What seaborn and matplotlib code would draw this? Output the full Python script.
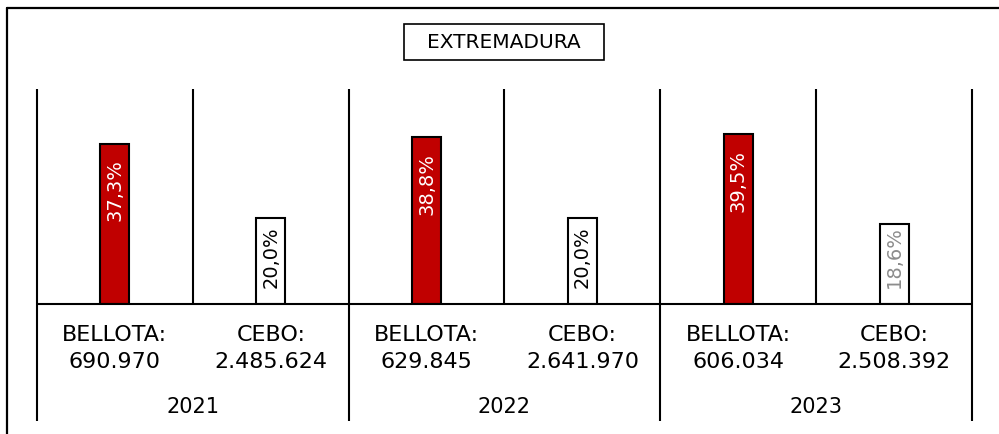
import matplotlib
matplotlib.use("Agg")
import matplotlib.pyplot as plt
from matplotlib.patches import Rectangle
from matplotlib.lines import Line2D
import seaborn as sns
import pandas as pd

# ---- data ----
years = ["2021", "2022", "2023"]
tipos = ["BELLOTA", "CEBO"]
bellota_pct = [37.3, 38.8, 39.5]
cebo_pct = [20.0, 20.0, 18.6]
bellota_heads = ["690.970", "629.845", "606.034"]
cebo_heads = ["2.485.624", "2.641.970", "2.508.392"]
title = "EXTREMADURA"

rows = []
for i, y in enumerate(years):
    rows.append({"cat": f"{y}-BELLOTA", "tipo": "BELLOTA", "value": bellota_pct[i], "heads": bellota_heads[i], "year": y})
    rows.append({"cat": f"{y}-CEBO", "tipo": "CEBO", "value": cebo_pct[i], "heads": cebo_heads[i], "year": y})
df = pd.DataFrame(rows)

sns.set_theme(style="white")
plt.rcParams["font.family"] = ["DejaVu Sans"]

W, H = 999, 434
fig = plt.figure(figsize=(W / 100, H / 100), dpi=100)
fig.patch.set_facecolor("white")

# outer frame (clipped at right / bottom)
fig.add_artist(Line2D([7 / W, 1.0], [1 - 8 / H, 1 - 8 / H], color="black", lw=1.6, transform=fig.transFigure))
fig.add_artist(Line2D([7 / W, 7 / W], [0.0, 1 - 8 / H], color="black", lw=1.6, transform=fig.transFigure))

# title box
fig.add_artist(Rectangle((404 / W, 1 - 60 / H), 200 / W, 36 / H, transform=fig.transFigure,
                         facecolor="white", edgecolor="black", lw=1.2))
fig.text(504 / W, 1 - 42 / H, title, ha="center", va="center", fontsize=14.5, color="black")

ax = fig.add_axes([37 / W, (H - 304) / H, 935 / W, 215 / H])
palette = {"BELLOTA": "#C00000", "CEBO": "white"}
sns.barplot(data=df, x="cat", y="value", hue="tipo", palette=palette, dodge=False,
            width=0.186, edgecolor="black", linewidth=1.5, legend=False, ax=ax,
            order=list(df["cat"]), saturation=1)
ax.set_xlim(-0.5, 5.5)
ax.set_ylim(0, 50)
ax.axis("off")

# baseline
ax.axhline(0, color="black", lw=1.5, clip_on=False)

# dividers
xt = ax.get_xaxis_transform()
for i in range(7):
    x = i - 0.5
    y0 = -0.544 if i % 2 == 0 else 0.0
    ax.plot([x, x], [y0, 1.0], color="black", lw=1.5, transform=xt, clip_on=False,
            solid_capstyle="butt")

# value labels
off = 16 / 4.3
for i, r in df.iterrows():
    lab = f"{r['value']:.1f}".replace(".", ",") + "%"
    if r["tipo"] == "BELLOTA":
        ax.text(i, r["value"] - off, lab, rotation=90, ha="center", va="top",
                color="white", fontsize=14)
    else:
        col = "black" if r["value"] >= 20 else "#8c8c8c"
        ax.text(i, off, lab, rotation=90, ha="center", va="bottom",
                color=col, fontsize=14)

# bottom labels
for i, r in df.iterrows():
    ax.text(i, -31 / 215, r["tipo"] + ":", ha="center", va="center", fontsize=16,
            transform=xt, color="black")
    ax.text(i, -58 / 215, r["heads"], ha="center", va="center", fontsize=16,
            transform=xt, color="black")

for j, y in enumerate(years):
    ax.text(2 * j + 0.5, -103 / 215, y, ha="center", va="center", fontsize=15,
            transform=xt, color="black")

fig.savefig("out.png", dpi=100, facecolor="white")
